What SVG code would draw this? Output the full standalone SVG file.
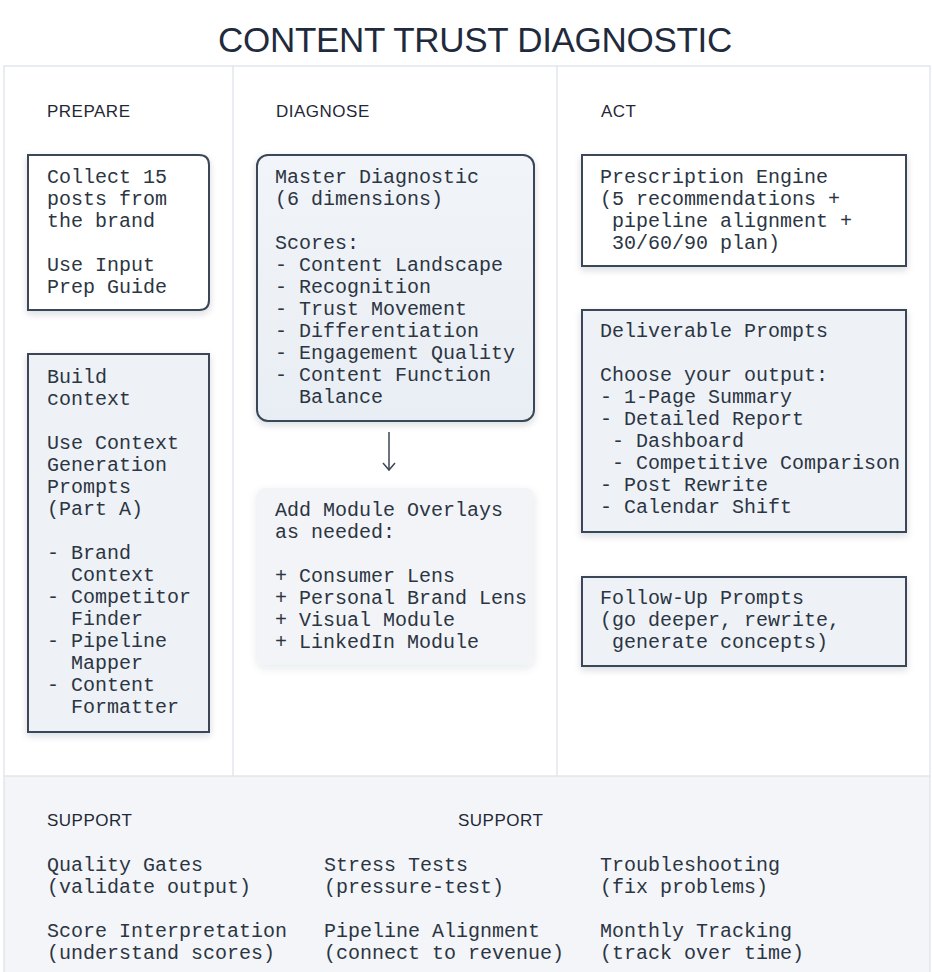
<svg xmlns="http://www.w3.org/2000/svg" width="932" height="972" viewBox="0 0 932 972">
<defs>
<filter id="sh" x="-10%" y="-10%" width="125%" height="125%">
<feDropShadow dx="0" dy="3" stdDeviation="3.5" flood-color="#1f2b3d" flood-opacity="0.16"/>
</filter>
<filter id="shs" x="-10%" y="-10%" width="125%" height="125%">
<feDropShadow dx="0" dy="3" stdDeviation="4" flood-color="#1f2b3d" flood-opacity="0.10"/>
</filter>
<linearGradient id="gm" x1="0" y1="0" x2="0" y2="1">
<stop offset="0" stop-color="#f1f4f8"/>
<stop offset="1" stop-color="#e9eef4"/>
</linearGradient>
</defs>
<style>
.t{font-family:"Liberation Mono","Courier New",monospace;font-size:20px;fill:#2c3543}
.h{font-family:"Liberation Sans",Arial,sans-serif;font-size:17px;letter-spacing:0.5px;fill:#1f2836}
.box{stroke:#3b4656;stroke-width:2}
.div{stroke:#e2e6eb;stroke-width:1.5;fill:none}
</style>
<rect width="932" height="972" fill="#ffffff"/>
<text x="475" y="52" text-anchor="middle" font-family="'Liberation Sans',Arial,sans-serif" font-size="35" letter-spacing="-0.3" fill="#1f2b3d">CONTENT TRUST DIAGNOSTIC</text>
<g id="frame">
<rect x="4" y="776" width="926" height="200" fill="#f3f5f8"/>
<rect class="div" x="4" y="66" width="926" height="910"/>
<line class="div" x1="233" y1="66" x2="233" y2="776"/>
<line class="div" x1="557" y1="66" x2="557" y2="776"/>
<line class="div" x1="4" y1="776" x2="930" y2="776"/>
</g>
<g id="headers">
<text class="h" x="47" y="117">PREPARE</text>
<text class="h" x="276" y="117">DIAGNOSE</text>
<text class="h" x="601" y="117">ACT</text>
</g>
<g id="connectors">
<line x1="389" y1="432" x2="389" y2="470" stroke="#3b4656" stroke-width="1.5"/>
<polyline points="383,463 389,470 395,463" fill="none" stroke="#3b4656" stroke-width="1.5"/>
</g>
<g id="collect">
<path class="box" d="M28,155 H199 Q209,155 209,165 V300 Q209,310 199,310 H28 Z" fill="#ffffff" filter="url(#sh)"/>
<text class="t" x="47" y="183">Collect 15</text>
<text class="t" x="47" y="205">posts from</text>
<text class="t" x="47" y="227">the brand</text>
<text class="t" x="47" y="271">Use Input</text>
<text class="t" x="47" y="293">Prep Guide</text>
</g>
<g id="build">
<rect class="box" x="28" y="354" width="181" height="378" fill="#eef2f6" filter="url(#sh)"/>
<text class="t" x="47" y="383">Build</text>
<text class="t" x="47" y="405">context</text>
<text class="t" x="47" y="449">Use Context</text>
<text class="t" x="47" y="471">Generation</text>
<text class="t" x="47" y="493">Prompts</text>
<text class="t" x="47" y="515">(Part A)</text>
<text class="t" x="47" y="559">- Brand</text>
<text class="t" x="71" y="581">Context</text>
<text class="t" x="47" y="603">- Competitor</text>
<text class="t" x="71" y="625">Finder</text>
<text class="t" x="47" y="647">- Pipeline</text>
<text class="t" x="71" y="669">Mapper</text>
<text class="t" x="47" y="691">- Content</text>
<text class="t" x="71" y="713">Formatter</text>
</g>
<g id="master">
<rect class="box" x="257" y="155" width="277" height="266" rx="11" fill="url(#gm)" filter="url(#sh)"/>
<text class="t" x="275" y="183">Master Diagnostic</text>
<text class="t" x="275" y="205">(6 dimensions)</text>
<text class="t" x="275" y="249">Scores:</text>
<text class="t" x="275" y="271">- Content Landscape</text>
<text class="t" x="275" y="293">- Recognition</text>
<text class="t" x="275" y="315">- Trust Movement</text>
<text class="t" x="275" y="337">- Differentiation</text>
<text class="t" x="275" y="359">- Engagement Quality</text>
<text class="t" x="275" y="381">- Content Function</text>
<text class="t" x="299" y="403">Balance</text>
</g>
<g id="modules">
<rect x="257" y="488" width="277" height="177" rx="8" fill="#f2f4f7" filter="url(#shs)"/>
<text class="t" x="275" y="516">Add Module Overlays</text>
<text class="t" x="275" y="538">as needed:</text>
<text class="t" x="275" y="582">+ Consumer Lens</text>
<text class="t" x="275" y="604">+ Personal Brand Lens</text>
<text class="t" x="275" y="626">+ Visual Module</text>
<text class="t" x="275" y="648">+ LinkedIn Module</text>
</g>
<g id="prescription">
<rect class="box" x="582" y="155" width="324" height="111" fill="#ffffff" filter="url(#sh)"/>
<text class="t" x="600" y="183">Prescription Engine</text>
<text class="t" x="600" y="205">(5 recommendations +</text>
<text class="t" x="612" y="227">pipeline alignment +</text>
<text class="t" x="612" y="249">30/60/90 plan)</text>
</g>
<g id="deliverable">
<rect class="box" x="582" y="310" width="324" height="222" fill="#eef2f7" filter="url(#sh)"/>
<text class="t" x="600" y="337">Deliverable Prompts</text>
<text class="t" x="600" y="381">Choose your output:</text>
<text class="t" x="600" y="403">- 1-Page Summary</text>
<text class="t" x="600" y="425">- Detailed Report</text>
<text class="t" x="612" y="447">- Dashboard</text>
<text class="t" x="612" y="469">- Competitive Comparison</text>
<text class="t" x="600" y="491">- Post Rewrite</text>
<text class="t" x="600" y="513">- Calendar Shift</text>
</g>
<g id="followup">
<rect class="box" x="582" y="577" width="324" height="89" fill="#eef2f7" filter="url(#sh)"/>
<text class="t" x="600" y="604">Follow-Up Prompts</text>
<text class="t" x="600" y="626">(go deeper, rewrite,</text>
<text class="t" x="612" y="648">generate concepts)</text>
</g>
<g id="support">
<text class="h" x="47" y="826">SUPPORT</text>
<text class="h" x="458" y="826">SUPPORT</text>
<text class="t" x="47" y="871">Quality Gates</text>
<text class="t" x="47" y="893">(validate output)</text>
<text class="t" x="47" y="937">Score Interpretation</text>
<text class="t" x="47" y="959">(understand scores)</text>
<text class="t" x="324" y="871">Stress Tests</text>
<text class="t" x="324" y="893">(pressure-test)</text>
<text class="t" x="324" y="937">Pipeline Alignment</text>
<text class="t" x="324" y="959">(connect to revenue)</text>
<text class="t" x="600" y="871">Troubleshooting</text>
<text class="t" x="600" y="893">(fix problems)</text>
<text class="t" x="600" y="937">Monthly Tracking</text>
<text class="t" x="600" y="959">(track over time)</text>
</g>
</svg>
